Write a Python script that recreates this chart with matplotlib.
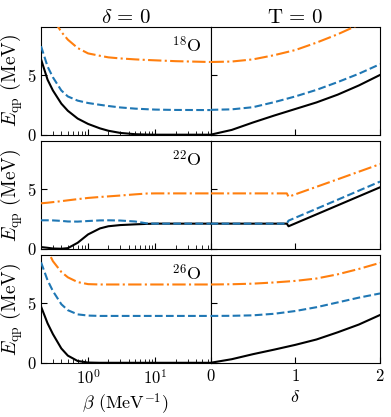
import matplotlib
matplotlib.use("Agg")
import matplotlib.pyplot as plt

plt.rcParams["font.family"] = "serif"
plt.rcParams["font.serif"] = ["cmr10"]
plt.rcParams["mathtext.fontset"] = "cm"
plt.rcParams["axes.formatter.use_mathtext"] = True

# beta grid (MeV^-1) for the delta = 0 panels
beta = [0.2, 0.25, 0.3, 0.4, 0.5, 0.7, 1.0, 1.5, 2.0, 3.0, 5.0, 7.5, 10.0, 20.0, 66.0]
# delta grid for the T = 0 panels
delta = [0.0, 0.25, 0.5, 0.75, 1.0, 1.25, 1.5, 1.75, 2.0]
delta_22 = [0.0, 0.5, 0.9, 0.92, 1.5, 2.0]

# 18O
o18_beta_black = [6.3, 4.6, 3.7, 2.6, 2.0, 1.35, 0.9, 0.53, 0.33, 0.15, 0.04, 0.01, 0.0, 0.0, 0.0]
o18_beta_blue = [7.4, 5.7, 4.8, 3.7, 3.2, 2.85, 2.65, 2.5, 2.4, 2.28, 2.18, 2.13, 2.1, 2.07, 2.06]
o18_beta_orange = [12.0, 10.6, 9.7, 8.6, 7.95, 7.25, 6.8, 6.6, 6.47, 6.38, 6.3, 6.25, 6.22, 6.15, 6.08]
o18_delta_black = [0.0, 0.4, 1.02, 1.6, 2.15, 2.7, 3.35, 4.12, 5.0]
o18_delta_blue = [2.08, 2.12, 2.3, 2.72, 3.2, 3.75, 4.4, 5.1, 5.9]
o18_delta_orange = [6.08, 6.12, 6.3, 6.65, 7.08, 7.7, 8.4, 9.2, 10.2]

# 22O
o22_beta_black = [0.14, 0.08, 0.02, 0.0, 0.05, 0.5, 1.2, 1.7, 1.88, 1.98, 2.04, 2.08, 2.1, 2.1, 2.1]
o22_beta_blue = [2.38, 2.38, 2.37, 2.33, 2.28, 2.27, 2.32, 2.37, 2.38, 2.36, 2.28, 2.12, 2.1, 2.1, 2.1]
o22_beta_orange = [3.8, 3.85, 3.9, 3.98, 4.05, 4.15, 4.25, 4.33, 4.38, 4.45, 4.55, 4.62, 4.63, 4.63, 4.63]
o22_delta_black = [2.1, 2.1, 2.1, 1.88, 3.63, 5.14]
o22_delta_blue = [2.1, 2.1, 2.1, 2.35, 4.1, 5.62]
o22_delta_orange = [4.63, 4.63, 4.63, 4.35, 5.81, 7.08]

# 26O
o26_beta_black = [4.7, 3.3, 2.4, 1.2, 0.6, 0.15, 0.02, 0.0, 0.0, 0.0, 0.0, 0.0, 0.0, 0.0, 0.0]
o26_beta_blue = [8.4, 6.9, 6.0, 4.9, 4.4, 4.05, 3.95, 3.92, 3.92, 3.92, 3.92, 3.92, 3.92, 3.92, 3.92]
o26_beta_orange = [10.5, 9.4, 8.5, 7.6, 7.15, 6.75, 6.58, 6.55, 6.55, 6.55, 6.55, 6.55, 6.55, 6.55, 6.55]
o26_delta_black = [0.0, 0.3, 0.72, 1.1, 1.5, 1.95, 2.55, 3.2, 4.0]
o26_delta_blue = [3.92, 3.93, 3.97, 4.1, 4.33, 4.65, 5.05, 5.45, 5.8]
o26_delta_orange = [6.55, 6.57, 6.62, 6.72, 6.85, 7.05, 7.4, 7.85, 8.36]

nuclei = [r"$^{18}\mathrm{O}$", r"$^{22}\mathrm{O}$", r"$^{26}\mathrm{O}$"]
rows = [
    (delta, o18_beta_black, o18_beta_blue, o18_beta_orange,
     o18_delta_black, o18_delta_blue, o18_delta_orange),
    (delta_22, o22_beta_black, o22_beta_blue, o22_beta_orange,
     o22_delta_black, o22_delta_blue, o22_delta_orange),
    (delta, o26_beta_black, o26_beta_blue, o26_beta_orange,
     o26_delta_black, o26_delta_blue, o26_delta_orange),
]

fig, axes = plt.subplots(3, 2, figsize=(3.91, 4.17), dpi=100, sharey=True)
fig.subplots_adjust(left=0.105, right=0.972, top=0.935, bottom=0.13,
                    wspace=0.0, hspace=0.06)

for i, (dgrid, bk, bl, orn, dbk, dbl, dor) in enumerate(rows):
    axl, axr = axes[i]
    axl.plot(beta, bk, color="black", lw=1.5, zorder=2)
    axl.plot(beta, bl, color="C0", ls="--", lw=1.5, zorder=3)
    axl.plot(beta, orn, color="C1", ls="-.", lw=1.5, zorder=3)
    axr.plot(dgrid, dbk, color="black", lw=1.5, zorder=2)
    axr.plot(dgrid, dbl, color="C0", ls="--", lw=1.5, zorder=3)
    axr.plot(dgrid, dor, color="C1", ls="-.", lw=1.5, zorder=3)

    axl.set_xscale("log")
    axl.set_xlim(0.2, 66)
    axr.set_xlim(0, 2)
    axl.set_ylim(0, 9)
    axl.set_yticks([0, 5])
    axr.set_xticks([0, 1, 2])
    axl.set_ylabel(r"$E_{\mathrm{qp}}$ (MeV)", fontsize=14, labelpad=1)
    axl.text(0.95, 0.93, nuclei[i], transform=axl.transAxes,
             ha="right", va="top", fontsize=13)

    for ax in (axl, axr):
        ax.tick_params(which="both", direction="in", top=False, right=False,
                       labelsize=12)
        ax.tick_params(which="major", length=4.5)
        ax.tick_params(which="minor", length=3)
    axr.tick_params(labelleft=False)
    if i < 2:
        axl.tick_params(labelbottom=False)
        axr.tick_params(labelbottom=False)

axes[0, 0].set_title(r"$\delta\,=\,0$", fontsize=15, pad=3)
axes[0, 1].set_title(r"$\mathrm{T}\,=\,0$", fontsize=15, pad=3)
axes[2, 0].set_xlabel(r"$\beta$ (MeV$^{-1}$)", fontsize=13)
axes[2, 1].set_xlabel(r"$\delta$", fontsize=13)

plt.savefig("out.png", dpi=100)
